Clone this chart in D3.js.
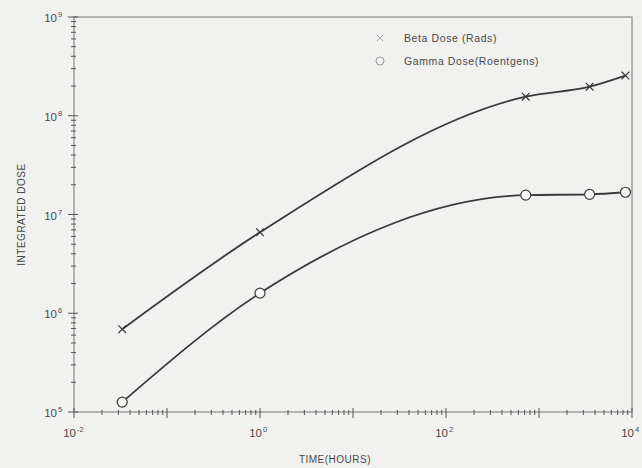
<!DOCTYPE html>
<html lang="en">
<head>
  <meta charset="UTF-8">
  <script src="https://cdn.jsdelivr.net/npm/d3@7"></script>
  <title>Integrated Dose</title>
  <style>
    body { margin: 0; background: #f1f1ef; }
    text { font-family: "Liberation Sans", Arial, sans-serif; fill: #4a4a4a; }
  </style>
</head>
<body>
  <svg></svg>
</body>
<script>
const width = 642;
const height = 468;
const margin = { top: 17, right: 10, bottom: 56, left: 74 };
const innerWidth = width - margin.left - margin.right;
const innerHeight = height - margin.top - margin.bottom;

// data
const times = [0.033, 1, 720, 3500, 8500];
const betaDose = [6.9e5, 6.6e6, 1.56e8, 1.97e8, 2.55e8];
const gammaDose = [1.26e5, 1.6e6, 1.57e7, 1.6e7, 1.68e7];
const xTickExps = [-2, 0, 2, 4];
const yTickExps = [5, 6, 7, 8, 9];
const legendLabels = ['Beta Dose (Rads)', 'Gamma Dose(Roentgens)'];

const svg = d3.select('svg').attr('width', width).attr('height', height);
const root = svg.append('g').attr('transform', `translate(${margin.left}, ${margin.top})`);

const xScale = d3.scaleLog().domain([1e-2, 1e4]).range([0, innerWidth]);
const yScale = d3.scaleLog().domain([1e5, 1e9]).range([innerHeight, 0]);

const ink = '#3a3a3a';

// frame
root.append('rect')
  .attr('width', innerWidth).attr('height', innerHeight)
  .attr('fill', 'none').attr('stroke', '#777').attr('stroke-width', 1);

// minor + major ticks
const xMinor = [];
for (let e = -2; e < 4; e++) for (let m = 2; m <= 9; m++) xMinor.push(m * Math.pow(10, e));
const yMinor = [];
for (let e = 5; e < 9; e++) for (let m = 2; m <= 9; m++) yMinor.push(m * Math.pow(10, e));

root.append('g').selectAll('line').data(xMinor).enter().append('line')
  .attr('x1', d => xScale(d)).attr('x2', d => xScale(d))
  .attr('y1', innerHeight - 2).attr('y2', innerHeight + 3)
  .attr('stroke', '#555');
root.append('g').selectAll('line').data(d3.range(-2, 5)).enter().append('line')
  .attr('x1', d => xScale(Math.pow(10, d))).attr('x2', d => xScale(Math.pow(10, d)))
  .attr('y1', innerHeight - 4).attr('y2', innerHeight + 6)
  .attr('stroke', '#555');
root.append('g').selectAll('line').data(yMinor).enter().append('line')
  .attr('y1', d => yScale(d)).attr('y2', d => yScale(d))
  .attr('x1', -3).attr('x2', 2)
  .attr('stroke', '#555');
root.append('g').selectAll('line').data(yTickExps).enter().append('line')
  .attr('y1', d => yScale(Math.pow(10, d))).attr('y2', d => yScale(Math.pow(10, d)))
  .attr('x1', -6).attr('x2', 4)
  .attr('stroke', '#555');

// tick labels as 10^n (base and exponent as separate texts)
const xLab = root.append('g').selectAll('g').data(xTickExps).enter().append('g')
  .attr('transform', d => `translate(${xScale(Math.pow(10, d))}, ${innerHeight + 25})`);
xLab.append('text').attr('text-anchor', 'end').attr('x', 2).attr('font-size', 11.5).text('10');
xLab.append('text').attr('x', 3).attr('y', -5).attr('font-size', 7.5).text(d => d);

const yLab = root.append('g').selectAll('g').data(yTickExps).enter().append('g')
  .attr('transform', d => `translate(-17, ${yScale(Math.pow(10, d)) + 5})`);
yLab.append('text').attr('text-anchor', 'end').attr('font-size', 11.5).text('10');
yLab.append('text').attr('x', 1).attr('y', -5).attr('font-size', 7.5).text(d => d);

// axis titles
svg.append('text')
  .attr('x', margin.left + innerWidth / 2 - 18)
  .attr('y', height - 5)
  .attr('text-anchor', 'middle')
  .attr('font-size', 10)
  .attr('letter-spacing', 0.5)
  .text('TIME(HOURS)');
svg.append('text')
  .attr('transform', `translate(25, ${margin.top + innerHeight / 2}) rotate(-90)`)
  .attr('text-anchor', 'middle')
  .attr('font-size', 10)
  .attr('letter-spacing', 0.5)
  .text('INTEGRATED DOSE');

// curves
const line = d3.line()
  .x(d => xScale(d[0]))
  .y(d => yScale(d[1]))
  .curve(d3.curveMonotoneX);

const betaPts = times.map((t, i) => [t, betaDose[i]]);
const gammaPts = times.map((t, i) => [t, gammaDose[i]]);

root.append('path').datum(betaPts).attr('d', line)
  .attr('fill', 'none').attr('stroke', ink).attr('stroke-width', 1.8);
root.append('path').datum(gammaPts).attr('d', line)
  .attr('fill', 'none').attr('stroke', ink).attr('stroke-width', 1.8);

// markers
const cross = d3.symbol().type(d3.symbolX).size(40);
root.append('g').selectAll('path').data(betaPts).enter().append('path')
  .attr('d', cross)
  .attr('transform', d => `translate(${xScale(d[0])}, ${yScale(d[1])})`)
  .attr('fill', ink).attr('stroke', ink).attr('stroke-width', 1.2);
root.append('g').selectAll('circle').data(gammaPts).enter().append('circle')
  .attr('cx', d => xScale(d[0])).attr('cy', d => yScale(d[1]))
  .attr('r', 5)
  .attr('fill', '#f8f8f6').attr('stroke', ink).attr('stroke-width', 1.2);

// legend
const legend = svg.append('g').attr('transform', 'translate(380, 38)');
legend.append('path').attr('d', d3.symbol().type(d3.symbolX).size(30))
  .attr('fill', '#777').attr('stroke', '#777').attr('stroke-width', 0.6);
legend.append('circle').attr('cy', 23).attr('r', 4)
  .attr('fill', 'none').attr('stroke', '#999');
legend.selectAll('text').data(legendLabels).enter().append('text')
  .attr('x', 24).attr('y', (d, i) => i * 23 + 4)
  .attr('font-size', 10.5)
  .attr('letter-spacing', 0.6)
  .text(d => d);
</script>
</html>
